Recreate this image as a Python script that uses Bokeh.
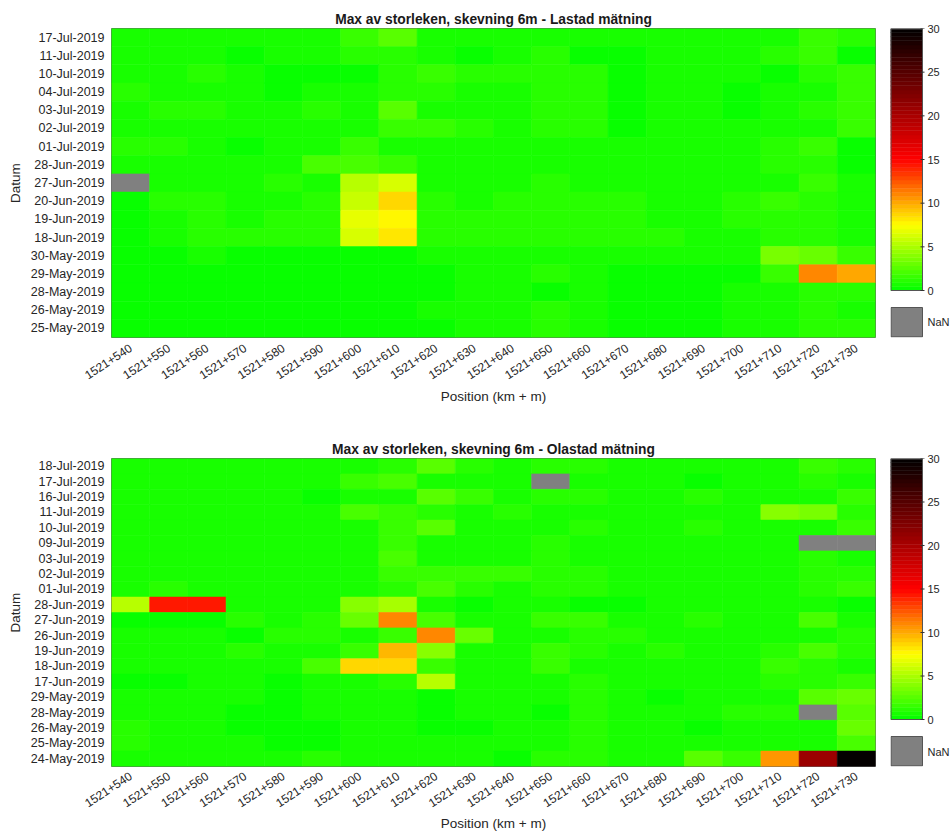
import math
import numpy as np
from bokeh.plotting import figure
from bokeh.models import (ColumnDataSource, FactorRange, Range1d, LinearColorMapper,
                          LinearAxis, FixedTicker)
from bokeh.layouts import row, column
from bokeh.transform import transform
from bokeh.embed import file_html
from bokeh.resources import INLINE

nan = float("nan")

# ---------------- data ----------------
positions = ["1521+540", "1521+550", "1521+560", "1521+570", "1521+580",
             "1521+590", "1521+600", "1521+610", "1521+620", "1521+630",
             "1521+640", "1521+650", "1521+660", "1521+670", "1521+680",
             "1521+690", "1521+700", "1521+710", "1521+720", "1521+730"]

title_lastad = "Max av storleken, skevning 6m - Lastad mätning"
title_olastad = "Max av storleken, skevning 6m - Olastad mätning"

# Lastad (top), rows listed top -> bottom
lastad_dates = ["17-Jul-2019", "11-Jul-2019", "10-Jul-2019", "04-Jul-2019", "03-Jul-2019",
                "02-Jul-2019", "01-Jul-2019", "28-Jun-2019", "27-Jun-2019", "20-Jun-2019",
                "19-Jun-2019", "18-Jun-2019", "30-May-2019", "29-May-2019", "28-May-2019",
                "26-May-2019", "25-May-2019"]
L_17Jul = [0.5, 0.5, 0.5, 0.5, 0.5, 0.5, 1.6, 2.6, 0.8, 0.8, 0.8, 0.9, 0.6, 0.6, 0.9, 0.7, 0.6, 0.9, 1.6, 1.0]
L_11Jul = [0.5, 0.5, 0.5, 0.2, 0.9, 0.5, 1.4, 1.4, 0.7, 0.3, 0.6, 1.2, 0.3, 0.3, 0.9, 0.6, 0.5, 1.2, 1.6, 0.2]
L_10Jul = [0.5, 0.5, 1.0, 0.5, 0.2, 0.4, 0.4, 1.0, 1.7, 1.4, 1.0, 1.4, 1.4, 0.2, 0.5, 0.8, 0.6, 0.4, 1.3, 1.8]
L_04Jul = [1.1, 0.6, 0.6, 0.5, 0.2, 0.5, 0.5, 1.2, 1.3, 0.7, 0.5, 1.4, 1.4, 0.2, 0.6, 0.5, 0.3, 0.6, 0.8, 1.8]
L_03Jul = [0.5, 1.0, 1.0, 0.5, 0.5, 1.0, 0.5, 2.8, 0.6, 0.5, 0.8, 1.0, 1.0, 0.4, 0.6, 0.6, 0.3, 0.6, 1.3, 1.8]
L_02Jul = [0.5, 0.5, 0.9, 0.9, 0.6, 0.6, 0.9, 1.6, 1.6, 1.2, 0.8, 1.2, 1.2, 0.3, 0.6, 0.8, 0.8, 0.5, 0.9, 1.8]
L_01Jul = [1.0, 1.0, 0.6, 0.2, 0.7, 0.5, 1.6, 0.8, 0.5, 0.9, 0.9, 0.8, 0.5, 0.5, 0.9, 0.6, 0.6, 1.2, 1.6, 0.4]
L_28Jun = [0.5, 0.9, 0.5, 0.9, 0.9, 1.9, 2.3, 1.7, 0.5, 0.5, 0.8, 0.5, 0.5, 0.5, 0.9, 0.6, 0.6, 1.2, 1.2, 0.4]
L_27Jun = [nan, 0.6, 0.8, 0.8, 1.2, 0.6, 5.3, 6.5, 0.8, 0.8, 0.8, 1.1, 0.8, 0.8, 0.5, 0.8, 0.8, 0.8, 1.5, 0.5]
L_20Jun = [0.3, 1.0, 1.0, 0.8, 0.8, 1.4, 5.9, 8.6, 1.0, 0.8, 1.2, 1.0, 1.0, 1.0, 0.8, 0.5, 1.4, 1.6, 1.2, 0.8]
L_19Jun = [0.3, 0.9, 1.3, 0.9, 1.2, 1.2, 6.8, 7.5, 1.3, 1.0, 1.0, 1.4, 1.4, 1.0, 0.8, 0.5, 1.4, 1.4, 1.2, 0.5]
L_18Jun = [0.3, 0.5, 1.0, 1.0, 1.0, 1.0, 6.5, 8.4, 1.2, 1.2, 1.2, 1.2, 1.2, 1.2, 1.2, 0.5, 0.9, 1.2, 1.2, 0.6]
L_30May = [0.4, 0.4, 0.5, 0.2, 0.4, 0.2, 0.2, 0.2, 0.5, 0.5, 0.5, 0.5, 0.5, 0.5, 0.5, 0.5, 0.5, 3.6, 3.2, 1.8]
L_29May = [0.4, 0.1, 0.4, 0.4, 0.2, 0.4, 0.2, 0.1, 0.1, 0.6, 0.6, 1.2, 0.8, 0.4, 0.4, 0.4, 0.4, 1.6, 11.2, 10.3]
L_28May = [0.2, 0.4, 0.4, 0.4, 0.4, 0.4, 0.2, 0.1, 0.1, 0.6, 0.6, 0.4, 0.9, 0.4, 0.4, 0.4, 0.9, 0.6, 1.4, 1.4]
L_26May = [0.4, 0.4, 0.4, 0.4, 0.2, 0.4, 0.4, 0.2, 0.6, 0.6, 0.6, 1.2, 0.8, 0.4, 0.4, 0.4, 0.9, 0.6, 1.4, 0.9]
L_25May = [0.4, 0.4, 0.4, 0.1, 0.4, 0.4, 0.4, 0.2, 0.2, 0.6, 0.6, 1.2, 0.8, 0.4, 0.4, 0.4, 0.6, 0.6, 1.4, 1.4]
lastad_rows = [L_17Jul, L_11Jul, L_10Jul, L_04Jul, L_03Jul, L_02Jul, L_01Jul, L_28Jun, L_27Jun,
               L_20Jun, L_19Jun, L_18Jun, L_30May, L_29May, L_28May, L_26May, L_25May]

# Olastad (bottom), rows listed top -> bottom
olastad_dates = ["18-Jul-2019", "17-Jul-2019", "16-Jul-2019", "11-Jul-2019", "10-Jul-2019",
                 "09-Jul-2019", "03-Jul-2019", "02-Jul-2019", "01-Jul-2019", "28-Jun-2019",
                 "27-Jun-2019", "26-Jun-2019", "19-Jun-2019", "18-Jun-2019", "17-Jun-2019",
                 "29-May-2019", "28-May-2019", "26-May-2019", "25-May-2019", "24-May-2019"]
O_18Jul = [0.5, 0.8, 0.5, 0.5, 0.5, 0.5, 0.6, 1.0, 2.6, 1.4, 0.8, 1.0, 1.4, 0.5, 0.8, 0.8, 0.8, 0.6, 1.5, 1.2]
O_17Jul = [0.5, 0.5, 0.5, 0.5, 0.5, 0.5, 1.5, 2.0, 0.5, 0.5, 0.5, nan, 0.5, 0.5, 0.5, 0.2, 0.5, 0.8, 1.0, 0.8]
O_16Jul = [0.5, 0.9, 0.9, 0.5, 0.5, 0.2, 0.8, 0.5, 2.4, 1.6, 0.5, 1.2, 1.2, 0.5, 0.5, 1.2, 0.8, 0.5, 0.5, 1.6]
O_11Jul = [0.9, 0.5, 0.5, 0.5, 0.8, 0.5, 2.2, 1.8, 1.0, 0.5, 1.4, 0.5, 0.5, 0.8, 0.8, 0.5, 0.5, 3.8, 3.4, 1.0]
O_10Jul = [0.5, 0.9, 0.9, 0.5, 0.5, 0.5, 0.8, 1.6, 2.4, 0.8, 0.5, 0.8, 1.2, 0.5, 0.5, 1.2, 0.8, 0.5, 0.5, 1.6]
O_09Jul = [0.5, 0.9, 0.5, 0.5, 0.5, 0.5, 0.8, 1.6, 0.5, 0.5, 0.6, 1.0, 0.5, 0.5, 0.8, 0.8, 0.8, 0.5, nan, nan]
O_03Jul = [0.5, 0.5, 0.5, 0.5, 0.5, 0.6, 0.9, 1.9, 0.5, 0.5, 0.6, 1.0, 0.5, 0.5, 0.8, 0.5, 0.5, 0.9, 1.3, 0.8]
O_02Jul = [0.5, 0.9, 0.5, 0.5, 0.5, 0.5, 0.5, 1.5, 1.5, 1.5, 1.5, 1.0, 1.0, 0.5, 0.5, 0.5, 0.9, 0.5, 1.2, 1.2]
O_01Jul = [0.9, 1.2, 0.9, 0.5, 0.5, 0.5, 0.8, 1.2, 2.2, 1.3, 0.5, 1.2, 1.2, 0.5, 0.5, 0.8, 0.8, 0.5, 1.3, 1.6]
O_28Jun = [5.3, 14.5, 14.1, 0.7, 0.5, 0.5, 4.2, 4.7, 0.6, 0.4, 0.6, 0.6, 0.4, 0.4, 0.6, 0.6, 0.6, 0.6, 0.6, 0.3]
O_27Jun = [0.4, 0.4, 0.4, 1.0, 0.5, 1.0, 3.0, 11.0, 2.0, 0.6, 0.6, 1.5, 1.5, 0.8, 0.8, 1.0, 0.8, 0.8, 2.0, 0.6]
O_26Jun = [0.8, 0.8, 0.8, 0.4, 1.2, 1.2, 0.8, 1.8, 11.0, 3.0, 0.5, 0.5, 1.4, 1.4, 0.6, 0.6, 0.6, 0.6, 0.6, 1.2]
O_19Jun = [0.8, 0.8, 0.8, 1.2, 0.6, 0.8, 1.6, 9.5, 4.0, 0.6, 0.6, 1.8, 1.4, 0.6, 1.0, 0.8, 0.8, 1.4, 2.0, 1.2]
O_18Jun = [0.8, 0.8, 0.8, 0.8, 0.8, 2.0, 8.5, 8.5, 1.5, 0.6, 0.6, 1.6, 0.8, 0.8, 0.8, 0.6, 0.8, 1.6, 1.2, 0.8]
O_17Jun = [0.2, 0.2, 0.6, 0.6, 0.4, 0.6, 0.6, 1.0, 5.5, 0.6, 0.6, 0.6, 1.4, 0.6, 0.6, 0.6, 0.8, 1.2, 1.2, 1.6]
O_29May = [0.6, 0.6, 0.9, 0.6, 0.4, 0.6, 0.6, 0.6, 0.2, 0.6, 0.6, 0.6, 1.2, 0.6, 0.2, 0.6, 0.6, 0.6, 2.5, 3.0]
O_28May = [0.6, 0.6, 0.6, 0.2, 0.4, 0.6, 0.6, 0.6, 0.2, 0.6, 0.6, 0.4, 1.2, 0.6, 0.6, 0.6, 1.4, 1.2, nan, 2.5]
O_26May = [1.0, 0.6, 0.6, 0.4, 0.2, 0.4, 0.6, 0.6, 0.2, 0.4, 0.6, 0.6, 1.2, 0.6, 0.6, 0.2, 0.6, 0.6, 0.6, 3.0]
O_25May = [1.0, 0.6, 0.6, 0.8, 0.4, 0.2, 0.6, 0.6, 0.6, 0.6, 0.6, 0.8, 1.2, 0.8, 0.6, 0.6, 0.6, 0.6, 0.6, 2.0]
O_24May = [0.8, 0.8, 0.8, 0.8, 0.8, 1.2, 0.6, 0.6, 0.6, 0.6, 0.4, 1.0, 1.2, 0.8, 0.6, 2.5, 1.7, 10.5, 21.0, 30.0]
olastad_rows = [O_18Jul, O_17Jul, O_16Jul, O_11Jul, O_10Jul, O_09Jul, O_03Jul, O_02Jul, O_01Jul,
                O_28Jun, O_27Jun, O_26Jun, O_19Jun, O_18Jun, O_17Jun, O_29May, O_28May,
                O_26May, O_25May, O_24May]

cbar_ticks = [0, 5, 10, 15, 20, 25, 30]
cbar_low, cbar_high = 0, 30

# ---------------- colour map: green -> yellow -> red -> black ----------------
anchors = [(0.0, (0, 255, 0)), (7.5, (255, 255, 0)), (15.0, (255, 0, 0)), (30.0, (0, 0, 0))]


def cmap_color(v):
    for (v0, c0), (v1, c1) in zip(anchors[:-1], anchors[1:]):
        if v <= v1:
            t = (v - v0) / (v1 - v0)
            rgb = [round(a + (b - a) * t) for a, b in zip(c0, c1)]
            return "#%02x%02x%02x" % tuple(rgb)
    return "#000000"


NLEV = 64
palette = [cmap_color((i + 0.5) * (cbar_high - cbar_low) / NLEV) for i in range(NLEV)]
mapper = LinearColorMapper(palette=palette, low=cbar_low, high=cbar_high, nan_color="#808080")

FONT = "Liberation Sans"
TXT = "#262626"


def heatmap(title, dates, rows, frame_h, top_b, bot_b, xl_standoff, xlab_standoff):
    xs, ys, vs = [], [], []
    for d, r in zip(dates, rows):
        for pos, v in zip(positions, r):
            xs.append(pos)
            ys.append(d)
            vs.append(v)
    src = ColumnDataSource(dict(pos=xs, date=ys, val=np.array(vs, dtype=float)))
    p = figure(x_range=FactorRange(*positions), y_range=FactorRange(*dates[::-1]),
               frame_width=764, frame_height=frame_h,
               min_border_left=111, min_border_right=15,
               min_border_top=top_b, min_border_bottom=bot_b,
               toolbar_location=None, output_backend="svg", title=title)
    p.rect(x="pos", y="date", width=1, height=1, source=src,
           fill_color=transform("val", mapper), line_color=transform("val", mapper),
           line_width=0.6)
    p.title.align = "center"
    p.title.text_font = FONT
    p.title.text_font_size = "13.8px"
    p.title.text_font_style = "bold"
    p.title.text_color = "#1a1a1a"
    p.title.standoff = 3
    p.xgrid.visible = False
    p.ygrid.visible = False
    p.outline_line_color = "#666666"
    p.outline_line_width = 1
    p.background_fill_color = "white"
    p.border_fill_color = "white"
    for ax in (p.xaxis[0], p.yaxis[0]):
        ax.axis_line_color = None
        ax.major_tick_line_color = None
        ax.minor_tick_line_color = None
        ax.major_tick_out = 0
        ax.major_tick_in = 0
        ax.minor_tick_out = 0
        ax.minor_tick_in = 0
        ax.major_label_text_font = FONT
        ax.major_label_text_font_size = "12.5px"
        ax.major_label_text_color = TXT
        ax.axis_label_text_font = FONT
        ax.axis_label_text_font_size = "13.5px"
        ax.axis_label_text_font_style = "normal"
        ax.axis_label_text_color = TXT
    p.xaxis.major_label_text_font_size = "12px"
    p.xaxis.axis_label = "Position (km + m)"
    p.yaxis.axis_label = "Datum"
    p.xaxis.major_label_orientation = 0.58
    p.xaxis.major_label_standoff = xl_standoff
    p.xaxis.axis_label_standoff = xlab_standoff
    p.yaxis.major_label_standoff = 7
    p.yaxis.axis_label_standoff = 5
    return p


def colorbar(frame_h, bar_h, top_b, bot_b):
    bar_w = 32
    span = cbar_high - cbar_low
    per_px = span / bar_h
    ybot = cbar_high - frame_h * per_px
    nan_top = ybot + 30 * per_px
    nan_mid = round((ybot + nan_top) / 2, 2)
    c = figure(x_range=Range1d(0, 35), y_range=Range1d(ybot, cbar_high),
               frame_width=35, frame_height=frame_h,
               min_border_left=0, min_border_right=0,
               min_border_top=top_b, min_border_bottom=bot_b,
               x_axis_type=None, y_axis_type=None,
               toolbar_location=None, output_backend="svg")
    c.outline_line_color = None
    c.xgrid.visible = False
    c.ygrid.visible = False
    step = span / NLEV
    c.quad(left=[0] * NLEV, right=[bar_w] * NLEV,
           bottom=[cbar_low + i * step for i in range(NLEV)],
           top=[cbar_low + (i + 1) * step for i in range(NLEV)],
           fill_color=palette, line_color=palette, line_width=0.5)
    c.quad(left=[0.5], right=[bar_w], bottom=[cbar_low], top=[cbar_high - 0.5 * per_px],
           fill_color=None, line_color="#555555", line_width=1)
    c.segment(x0=[bar_w - 2] * len(cbar_ticks), x1=[bar_w + 2] * len(cbar_ticks),
              y0=cbar_ticks, y1=cbar_ticks, line_color="#333333", line_width=1)
    c.quad(left=[0.5], right=[bar_w], bottom=[ybot + 0.6 * per_px], top=[nan_top],
           fill_color=mapper.nan_color, line_color="#555555", line_width=1)
    ax = LinearAxis(ticker=FixedTicker(ticks=[nan_mid] + cbar_ticks),
                    major_label_overrides={nan_mid: "NaN"})
    ax.axis_line_color = None
    ax.major_tick_line_color = None
    ax.minor_tick_line_color = None
    ax.major_tick_in = 0
    ax.major_tick_out = 0
    ax.major_label_standoff = 2
    ax.major_label_text_font = FONT
    ax.major_label_text_font_size = "11px"
    ax.major_label_text_color = TXT
    c.add_layout(ax, "right")
    return c


p1 = heatmap(title_lastad, lastad_dates, lastad_rows, 309, 28, 101, 9, 3)
c1 = colorbar(309, 262, 28, 101)
p2 = heatmap(title_olastad, olastad_dates, olastad_rows, 308, 20, 66, 8, 2)
c2 = colorbar(308, 261, 20, 66)

layout = column(row(p1, c1), row(p2, c2))

open("out.html", "w").write(file_html(layout, INLINE))
